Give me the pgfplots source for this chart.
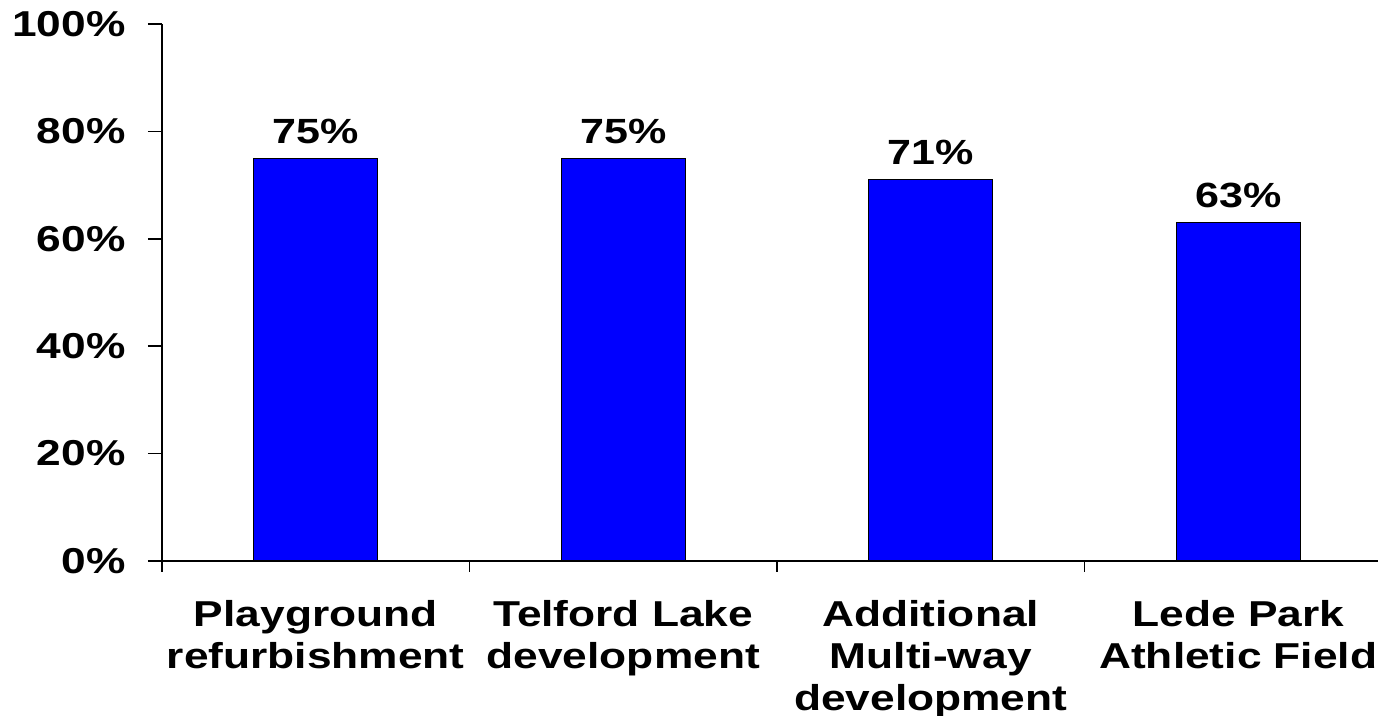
\documentclass[border=0pt]{standalone}
\usepackage{fontspec}
\setmainfont{Liberation Sans}[FakeStretch=1.23]
\usepackage{pgfplots}
\pgfplotsset{compat=1.18}
\definecolor{barblue}{RGB}{0,0,255}
\begin{document}
\begin{tikzpicture}
\begin{axis}[
  x=153.75pt, y=2.685pt,
  xmin=-0.5, xmax=3.4545, ymin=0, ymax=100,
  axis x line*=bottom, axis y line*=left,
  axis line style={black, line width=0.75pt},
  ybar, bar width=62pt,
  /pgf/number format/assume math mode=true,
  ytick={0,20,40,60,80,100},
  yticklabels={0\%,20\%,40\%,60\%,80\%,100\%},
  tick align=outside,
  major tick length=7pt, minor tick length=5.5pt,
  tick style={black, line width=0.75pt},
  xtick={0,1,2,3},
  major x tick style={draw=none},
  minor xtick={-0.5,0.5,1.5,2.5},
  xticklabels={{Playground\\refurbishment},{Telford Lake\\development},{Additional\\Multi-way\\development},{Lede Park\\Athletic Field}},
  xticklabel style={font=\fontsize{18}{21}\selectfont\bfseries, align=center, anchor=north, inner sep=0pt, yshift=-12.5pt},
  yticklabel style={font=\fontsize{18}{21}\selectfont\bfseries, anchor=east, inner sep=0pt, xshift=-11pt},
  nodes near coords={\pgfmathprintnumber{\pgfplotspointmeta}\%},
  nodes near coords style={font=\fontsize{17.5}{20}\selectfont\bfseries, anchor=south, inner sep=0pt, yshift=7pt, black},
  clip=false,
]
\addplot[fill=barblue, draw=black, line width=0.5pt] coordinates {(0,75) (1,75) (2,71) (3,63)};
\coordinate (bbl) at (axis cs:-1.0268,-28.86);
\coordinate (btr) at (axis cs:3.4545,104.47);
\end{axis}
\pgfresetboundingbox
\useasboundingbox (bbl) rectangle (btr);
\end{tikzpicture}
\end{document}
